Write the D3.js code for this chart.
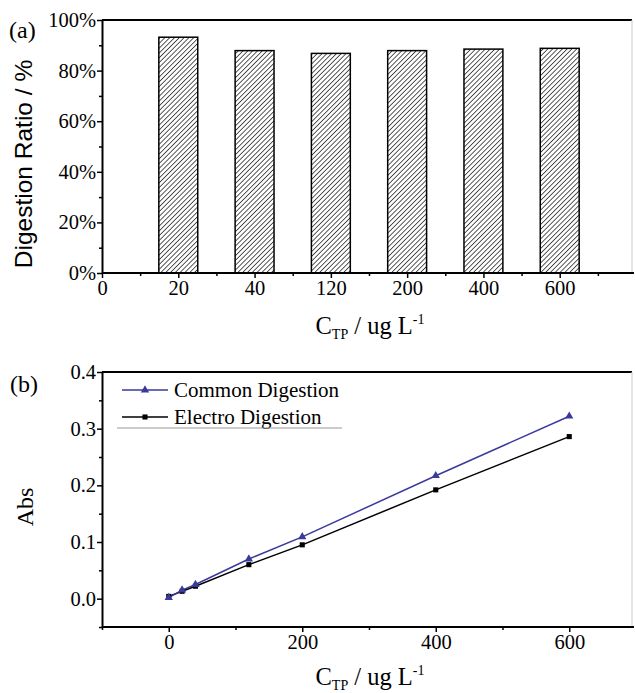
<!DOCTYPE html>
<html><head><meta charset="utf-8">
<script src="https://cdn.jsdelivr.net/npm/d3@7"></script>
<style>body{margin:0;background:#fff}svg{display:block}</style>
</head><body>
<script>
// ---- data ----
const xTickLabels = ["0","20","40","120","200","400","600"];
const categories = ["20","40","120","200","400","600"];
const digestionRatio = [93.2, 87.9, 86.8, 87.9, 88.5, 88.8];
const yTicksA = [0,20,40,60,80,100];
const concentrations = [0,20,40,120,200,400,600];
const commonAbs = [0.002, 0.015, 0.025, 0.070, 0.109, 0.217, 0.322];
const electroAbs = [0.004, 0.013, 0.022, 0.060, 0.095, 0.192, 0.286];
const yTicksB = [0.0,0.1,0.2,0.3,0.4];
const xTicksB = [0,200,400,600];
const seriesNames = ["Common Digestion","Electro Digestion"];

const W=635,H=693;
const svg=d3.select("body").append("svg").attr("width",W).attr("height",H);
const serif="'Liberation Serif','Times New Roman',serif";
const sans="'Liberation Sans',Arial,sans-serif";
const blue="#3a3a9c";

const defs=svg.append("defs");
const pat=defs.append("pattern").attr("id","hatch").attr("patternUnits","userSpaceOnUse")
  .attr("width",3.4).attr("height",3.4).attr("patternTransform","rotate(45)");
pat.append("rect").attr("width",3.4).attr("height",3.4).attr("fill","#fff");
pat.append("line").attr("x1",0).attr("y1",0).attr("x2",0).attr("y2",3.4).attr("stroke","#111").attr("stroke-width",1.4);

function frame(g,x0,x1,y0,y1){
  g.append("line").attr("x1",x0).attr("x2",x1).attr("y1",y0).attr("y2",y0).attr("stroke","#000").attr("stroke-width",2);
  g.append("line").attr("x1",x1).attr("x2",x1).attr("y1",y0).attr("y2",y1).attr("stroke","#ccc").attr("stroke-width",1);
}
function styleAxis(a){
  a.select(".domain").attr("stroke","#000").attr("stroke-width",2);
  a.selectAll(".tick line").attr("stroke","#000").attr("stroke-width",1.5);
  a.selectAll("text").attr("font-family",serif).attr("font-size",20.5).attr("fill","#000");
}
function ctpTitle(g,cx,y){
  const t=g.append("text").attr("x",cx).attr("y",y).attr("text-anchor","middle")
    .attr("font-family",serif).attr("font-size",24.5).attr("fill","#000");
  t.append("tspan").text("C");
  t.append("tspan").attr("font-size",14).attr("dy",5).text("TP");
  t.append("tspan").attr("dy",-5).text(" / ug L");
  t.append("tspan").attr("font-size",14).attr("dy",-10).text("-1");
}

// ---- panel (a) ----
const aL=102,aR=634,aT=20,aB=273;
const xa=d3.scaleLinear().domain([0,7]).range([aL,aR+2]);
const ya=d3.scaleLinear().domain([0,100]).range([aB,aT]);
const ga=svg.append("g");
frame(ga,aL,632,aT,aB);
const bw=xa(0.51)-xa(0);
ga.selectAll("rect.bar").data(digestionRatio).join("rect").attr("class","bar")
  .attr("x",(d,i)=>xa(i+1)-bw/2).attr("width",bw)
  .attr("y",d=>ya(d)).attr("height",d=>ya(0)-ya(d))
  .attr("fill","url(#hatch)").attr("stroke","#000").attr("stroke-width",1.5);
const axMinorY=ga.append("g").attr("transform",`translate(${aL},0)`)
  .call(d3.axisLeft(ya).tickValues(d3.range(10,100,20)).tickSize(3).tickFormat(""));
axMinorY.select(".domain").remove(); axMinorY.selectAll("line").attr("stroke","#000").attr("stroke-width",1.5);
const axMinorX=ga.append("g").attr("transform",`translate(0,${aB})`)
  .call(d3.axisBottom(xa).tickValues(d3.range(0.5,7,1)).tickSize(3).tickFormat(""));
axMinorX.select(".domain").remove(); axMinorX.selectAll("line").attr("stroke","#000").attr("stroke-width",1.5);
const ayA=ga.append("g").attr("transform",`translate(${aL},0)`)
  .call(d3.axisLeft(ya).tickValues(yTicksA).tickSize(5).tickPadding(1).tickSizeOuter(0).tickFormat(d=>d+"%"));
styleAxis(ayA);
const axA=ga.append("g").attr("transform",`translate(0,${aB})`)
  .call(d3.axisBottom(xa).tickValues(d3.range(0,7)).tickSize(5).tickPadding(2).tickSizeOuter(0).tickFormat((d,i)=>xTickLabels[i]));
styleAxis(axA);
axA.select(".domain").attr("d",`M${aL},0H${aR}`);
ga.append("text").attr("transform","translate(32,164) rotate(-90)").attr("text-anchor","middle")
  .attr("font-family",sans).attr("font-size",24.5).attr("fill","#000").text("Digestion Ratio / %");
ga.append("text").attr("x",9).attr("y",38).attr("font-family",serif).attr("font-size",24).text("(a)");
ctpTitle(ga,370,334);

// ---- panel (b) ----
const bL=102,bR=634,bT=372,bB=627;
const xb=d3.scaleLinear().domain([-100,700]).range([bL,bR+2]);
const yb=d3.scaleLinear().domain([-0.05,0.4]).range([bB,bT]);
const gb=svg.append("g");
frame(gb,bL,632,bT,bB);
const bMinY=gb.append("g").attr("transform",`translate(${bL},0)`)
  .call(d3.axisLeft(yb).tickValues([-0.05,0.05,0.15,0.25,0.35]).tickSize(3).tickFormat(""));
bMinY.select(".domain").remove(); bMinY.selectAll("line").attr("stroke","#000").attr("stroke-width",1.5);
const bMinX=gb.append("g").attr("transform",`translate(0,${bB})`)
  .call(d3.axisBottom(xb).tickValues([-100,100,300,500,700]).tickSize(3).tickFormat(""));
bMinX.select(".domain").remove(); bMinX.selectAll("line").attr("stroke","#000").attr("stroke-width",1.5);
const byAx=gb.append("g").attr("transform",`translate(${bL},0)`)
  .call(d3.axisLeft(yb).tickValues(yTicksB).tickSize(5).tickPadding(1).tickSizeOuter(0).tickFormat(d3.format(".1f")));
styleAxis(byAx);
const bxAx=gb.append("g").attr("transform",`translate(0,${bB})`)
  .call(d3.axisBottom(xb).tickValues(xTicksB).tickSize(5).tickPadding(2).tickSizeOuter(0));
styleAxis(bxAx);
bxAx.select(".domain").attr("d",`M${bL},0H${bR}`);

const line=d3.line().x(d=>xb(d[0])).y(d=>yb(d[1]));
const commonPts=concentrations.map((c,i)=>[c,commonAbs[i]]);
const electroPts=concentrations.map((c,i)=>[c,electroAbs[i]]);
gb.append("path").datum(electroPts).attr("d",line).attr("fill","none").attr("stroke","#000").attr("stroke-width",1.5);
gb.append("path").datum(commonPts).attr("d",line).attr("fill","none").attr("stroke",blue).attr("stroke-width",1.5);
const tri=d3.symbol().type(d3.symbolTriangle).size(30);
const sq=d3.symbol().type(d3.symbolSquare).size(26);
gb.selectAll("path.sq").data(electroPts).join("path").attr("class","sq")
  .attr("transform",d=>`translate(${xb(d[0])},${yb(d[1])})`).attr("d",sq).attr("fill","#000");
gb.selectAll("path.tri").data(commonPts).join("path").attr("class","tri")
  .attr("transform",d=>`translate(${xb(d[0])},${yb(d[1])})`).attr("d",tri).attr("fill",blue);

// legend
const leg=gb.append("g");
const legColors=[blue,"#000"], legSyms=[tri,sq], legY=[390,417];
seriesNames.forEach((n,i)=>{
  leg.append("line").attr("x1",122).attr("x2",168).attr("y1",legY[i]).attr("y2",legY[i]).attr("stroke",legColors[i]).attr("stroke-width",1.5);
  leg.append("path").attr("transform",`translate(145,${legY[i]})`).attr("d",legSyms[i]).attr("fill",legColors[i]);
  leg.append("text").attr("x",174).attr("y",legY[i]+7).attr("font-family",serif).attr("font-size",21).attr("fill","#000").text(n);
});
leg.append("line").attr("x1",117).attr("x2",342).attr("y1",428).attr("y2",428).attr("stroke","#999").attr("stroke-width",1);

gb.append("text").attr("transform","translate(33,507) rotate(-90)").attr("text-anchor","middle")
  .attr("font-family",serif).attr("font-size",24).attr("fill","#000").text("Abs");
gb.append("text").attr("x",10).attr("y",392).attr("font-family",serif).attr("font-size",24).text("(b)");
ctpTitle(gb,370,685);
</script>
</body></html>
